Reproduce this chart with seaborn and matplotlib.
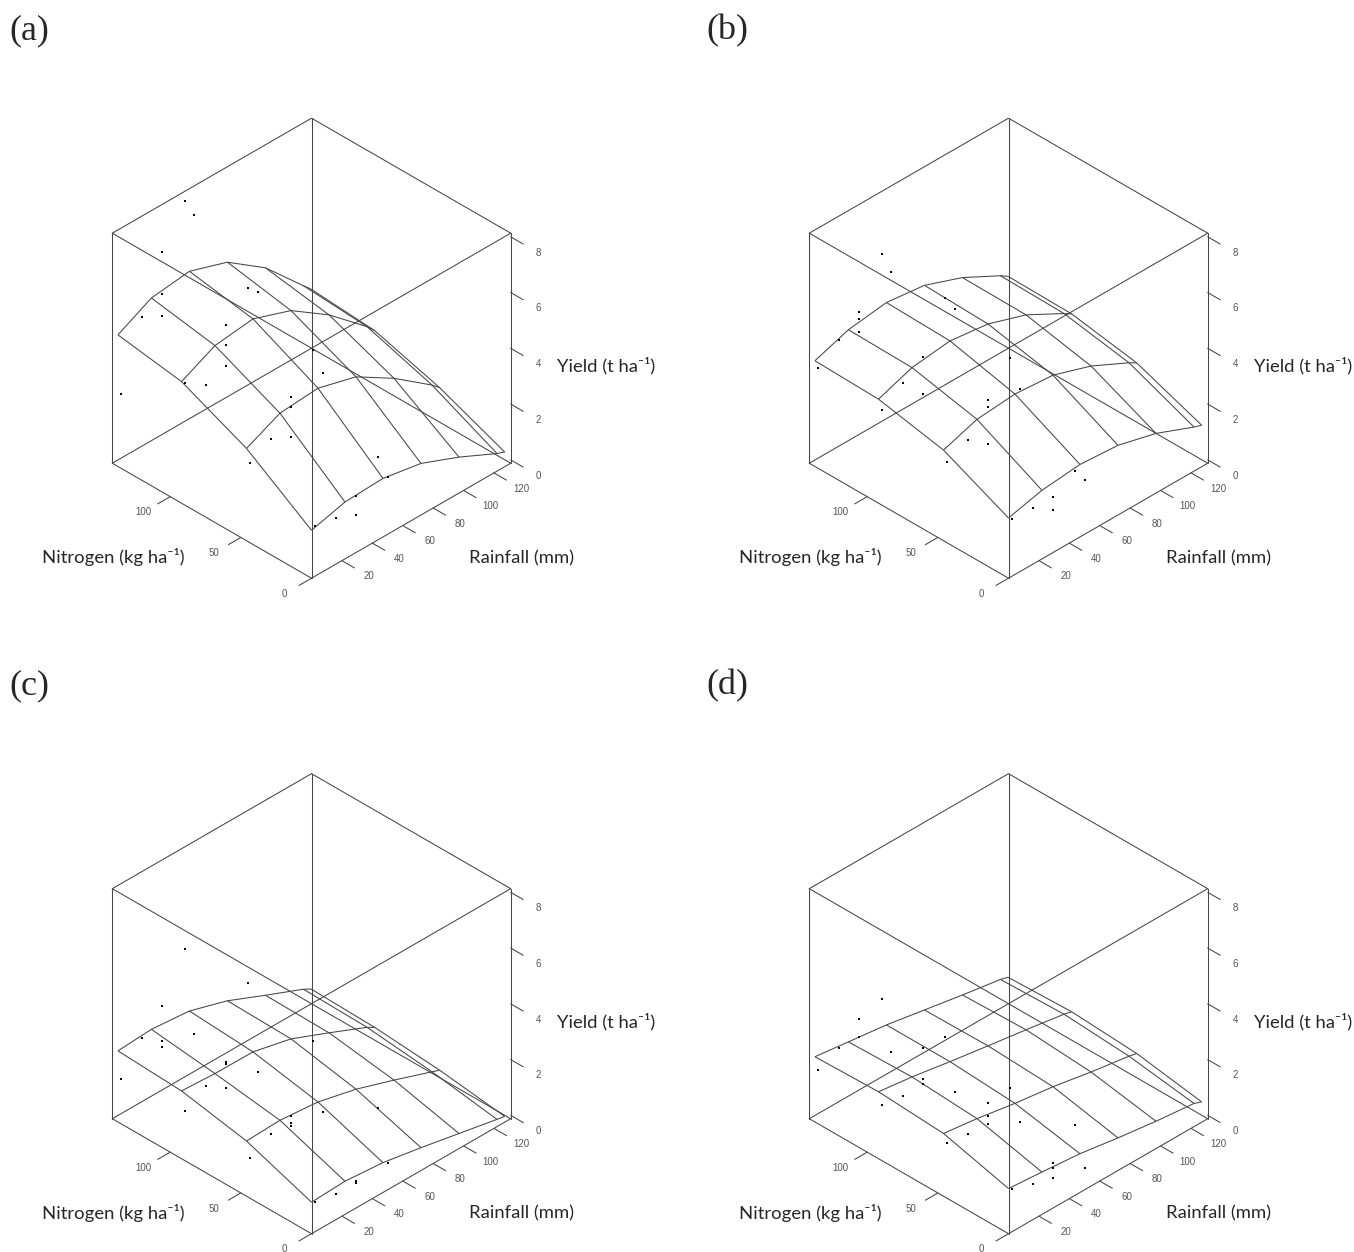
import numpy as np
import seaborn as sns
import matplotlib
matplotlib.use('Agg')
import matplotlib.pyplot as plt

sns.set_theme(style='white')
plt.rcParams['font.family'] = ['Lato', 'DejaVu Sans']

# grid of the fitted response surfaces (rows = nitrogen, cols = rainfall)
rain_grid = [0, 22, 47, 72, 97, 122, 127]
nitro_grid = [0, 46, 92, 137]

surf_a = [[1.60, 1.92, 1.98, 1.73, 1.17, 0.51, 0.41],
          [3.19, 3.76, 3.87, 3.49, 2.65, 1.62, 1.37],
          [4.24, 4.84, 5.01, 4.52, 3.58, 2.37, 2.07],
          [4.60, 5.23, 5.40, 4.94, 3.95, 2.52, 2.24]]
surf_b = [[2.04, 2.34, 2.48, 2.38, 2.02, 1.46, 1.37],
          [3.13, 3.54, 3.66, 3.55, 3.09, 2.42, 2.26],
          [3.61, 4.05, 4.22, 4.04, 3.58, 2.84, 2.67],
          [3.67, 4.09, 4.28, 4.11, 3.60, 2.88, 2.70]]
surf_c = [[1.01, 1.07, 0.95, 0.70, 0.42, 0.14, 0.09],
          [1.86, 1.91, 1.78, 1.45, 0.99, 0.50, 0.40],
          [2.31, 2.24, 2.23, 1.91, 1.34, 0.75, 0.59],
          [2.43, 2.51, 2.38, 1.96, 1.37, 0.80, 0.65]]
surf_d = [[1.50, 1.40, 1.27, 1.05, 0.86, 0.71, 0.61],
          [2.13, 1.97, 1.73, 1.54, 1.28, 1.06, 1.00],
          [2.28, 2.12, 1.88, 1.66, 1.45, 1.22, 1.15],
          [2.22, 2.06, 1.88, 1.63, 1.38, 1.15, 1.07]]

# observed plots
obs_rain = [2, 16, 29, 29, 29, 44, 2, 50, 16, 29, 29, 29, 44, 2,
            50, 16, 29, 29, 29, 44, 50, 44, 50, 29, 29, 29, 16, 2]
obs_nitro = [137, 137, 137, 137, 137, 137, 92, 137, 92, 92, 92, 92, 92, 46,
             92, 46, 46, 46, 46, 46, 46, 0, 0, 0, 0, 0, 0, 0]
obs_a = [2.40, 4.72, 6.65, 5.17, 4.38, 8.03, 4.13, 7.33, 3.61, 5.37, 4.64, 3.89, 6.21, 2.61,
         5.87, 3.03, 4.13, 3.77, 2.69, 5.35, 4.31, 2.86, 1.92, 1.92, 1.92, 1.23, 1.54, 1.68]
obs_b = [3.35, 3.90, 4.51, 4.24, 3.78, 6.11, 3.15, 5.29, 3.70, 4.22, 4.22, 2.90, 5.84, 2.65,
         5.26, 2.97, 4.00, 3.76, 2.42, 5.06, 3.76, 2.35, 1.83, 1.89, 1.87, 1.41, 1.91, 1.95]
obs_c = [1.36, 2.38, 3.11, 1.88, 1.65, 4.70, 1.52, 1.46, 1.97, 2.42, 2.38, 1.50, 4.78, 1.20,
         1.40, 1.61, 1.85, 1.60, 1.47, 4.07, 1.33, 3.01, 0.84, 0.87, 0.81, 0.78, 0.79, 0.95]
obs_d = [1.69, 2.02, 2.67, 2.67, 2.03, 2.89, 1.76, 0.83, 1.62, 2.95, 1.84, 1.64, 2.85, 1.73,
         0.69, 1.61, 2.32, 1.84, 1.55, 2.37, 0.95, 2.40, 0.66, 1.50, 1.31, 0.95, 1.16, 1.41]

rain_ticks = [20, 40, 60, 80, 100, 120]
nitro_ticks = [0, 50, 100]
yield_ticks = [0, 2, 4, 6, 8]

RAIN_LIM = (0, 131)
NITRO_LIM = (0, 141)
YIELD_LIM = (-0.12, 8.13)

LINE = '#454545'
TICK_TXT = '#555555'
W, H = 1354, 1252

fig = plt.figure(figsize=(W / 100, H / 100), dpi=100)

panels = [('(a)', surf_a, obs_a, 311.5, 348.2),
          ('(b)', surf_b, obs_b, 1008.5, 348.2),
          ('(c)', surf_c, obs_c, 311.5, 1003.7),
          ('(d)', surf_d, obs_d, 1008.5, 1003.7)]


def tick_label(ax, x, y, z, s):
    # place the label at the projected 3D point, as a plain 2D text
    M = ax.get_proj()
    p = M @ np.array([x, y, z, 1.0])
    ax.text2D(p[0] / p[3], p[1] / p[3], s, transform=ax.transData,
              ha='center', va='center', fontsize=7, color=TICK_TXT,
              family='Liberation Sans')


side = 473.7
for label, surf, obs, cx, cy in panels:
    left = cx - 0.51351 * side
    bottom = (H - cy) - 0.51351 * side
    ax = fig.add_axes([left / W, bottom / H, side / W, side / H],
                      projection='3d', computed_zorder=False)
    ax.set_proj_type('ortho')
    ax.view_init(elev=35.264, azim=-135)
    ax.set_box_aspect((1, 1, 1))
    ax.set_axis_off()

    X, Y = np.meshgrid(rain_grid, nitro_grid)
    ax.plot_wireframe(X, Y, np.array(surf), rstride=1, cstride=1,
                      color=LINE, linewidth=0.75, zorder=2)
    ax.scatter(obs_rain, obs_nitro, obs, s=3, c='black', marker='s',
               linewidths=0, depthshade=False, zorder=5)

    # bounding box
    corners = [(x, y, z) for x in RAIN_LIM for y in NITRO_LIM for z in YIELD_LIM]
    for i, p in enumerate(corners):
        for q in corners[i + 1:]:
            if sum(a != b for a, b in zip(p, q)) == 1:
                ax.plot(*zip(p, q), color=LINE, linewidth=0.75, zorder=1)

    ax.set_xlim(RAIN_LIM)
    ax.set_ylim(NITRO_LIM)
    ax.set_zlim(YIELD_LIM)

    # ticks, drawn the persp way (outside the box)
    tn = 0.063 * NITRO_LIM[1]
    ln = 0.137 * NITRO_LIM[1]
    tr = 0.063 * RAIN_LIM[1]
    lr = 0.137 * RAIN_LIM[1]
    z0 = YIELD_LIM[0]
    for r in rain_ticks:
        ax.plot([r, r], [0, -tn], [z0, z0], color=LINE, linewidth=0.75)
        tick_label(ax, r, -ln, z0, str(r))
    for n in nitro_ticks:
        ax.plot([0, -tr], [n, n], [z0, z0], color=LINE, linewidth=0.75)
        tick_label(ax, -lr, n, z0, str(n))
    for z in yield_ticks:
        ax.plot([RAIN_LIM[1]] * 2, [0, -tn], [z, z], color=LINE, linewidth=0.75)
        tick_label(ax, RAIN_LIM[1], -ln, z, str(z))

    ax.set_xlim(RAIN_LIM)
    ax.set_ylim(NITRO_LIM)
    ax.set_zlim(YIELD_LIM)

    # panel letter and axis titles
    ox, oy = cx - 311.5, cy - 348.2
    fig.text((9 + ox) / W, 1 - (39 + oy) / H, label, fontsize=26,
             family='Liberation Serif', ha='left', va='baseline')
    fig.text((557 + ox) / W, 1 - (371.5 + oy) / H, 'Yield (t ha\u207b\u00b9)',
             fontsize=13.3, ha='left', va='baseline')
    fig.text((42 + ox) / W, 1 - (563 + oy) / H, 'Nitrogen (kg ha\u207b\u00b9)',
             fontsize=13.3, ha='left', va='baseline')
    fig.text((469 + ox) / W, 1 - (563 + oy) / H, 'Rainfall (mm)',
             fontsize=13.3, ha='left', va='baseline')

fig.savefig('out.png', dpi=100)
